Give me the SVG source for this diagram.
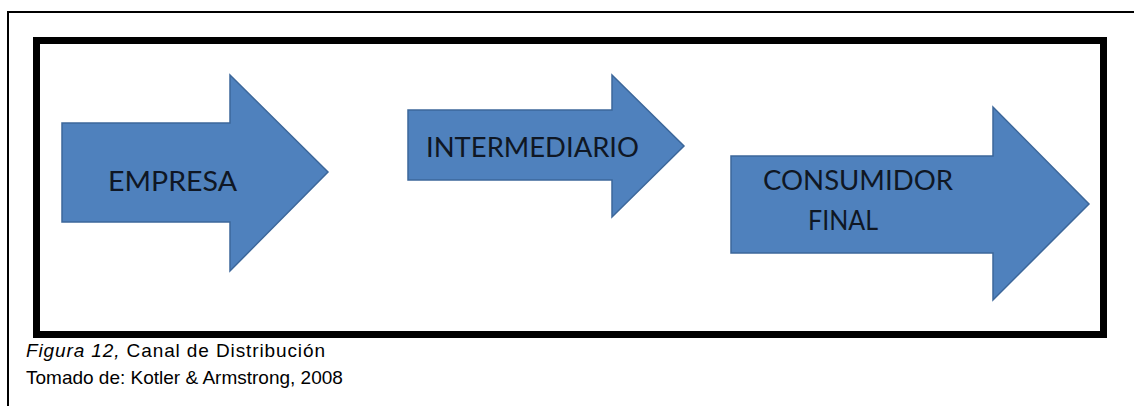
<svg xmlns="http://www.w3.org/2000/svg" width="1134" height="406" viewBox="0 0 1134 406">
  <defs>
    <style>
      .page { fill: none; stroke: #000; stroke-width: 2; }
      .frame { fill: none; stroke: #000; stroke-width: 7; }
      .arrow { fill: #4f81bd; stroke: #3c679a; stroke-width: 1.5; stroke-linejoin: miter; }
      .label { font-family: Lato, "Open Sans", "Liberation Sans", sans-serif; font-size: 26px; fill: #0f1724; }
      .caption { font-family: "Liberation Sans", Arial, sans-serif; font-size: 19px; fill: #000; }
    </style>
  </defs>

  <rect width="1134" height="406" fill="#fff"/>

  <!-- page border: top and left edges only -->
  <path class="page" d="M8,406 V12 H1134"/>

  <!-- heavy frame around the channel -->
  <rect class="frame" x="36.5" y="40.5" width="1067" height="294"/>

  <g id="empresa">
    <polygon class="arrow" points="62,123 230,123 230,75 328,172 230,271 230,222 62,222"/>
    <text class="label" x="108" y="191" textLength="129" lengthAdjust="spacingAndGlyphs">EMPRESA</text>
  </g>

  <g id="intermediario">
    <polygon class="arrow" points="408,110 612,110 612,75 684,146 612,217 612,180 408,180"/>
    <text class="label" x="426" y="157" textLength="213" lengthAdjust="spacingAndGlyphs">INTERMEDIARIO</text>
  </g>

  <g id="consumidor-final">
    <polygon class="arrow" points="731,156 993,156 993,107 1089,204 993,300 993,253 731,253"/>
    <text class="label" x="763" y="190" textLength="190" lengthAdjust="spacingAndGlyphs">CONSUMIDOR</text>
    <text class="label" x="808" y="230" textLength="70" lengthAdjust="spacingAndGlyphs">FINAL</text>
  </g>

  <g id="connectors"/>

  <g id="caption">
    <text class="caption" x="26" y="357" textLength="299" lengthAdjust="spacing"><tspan font-style="italic">Figura 12,</tspan> Canal de Distribución</text>
    <text class="caption" x="26" y="384">Tomado de: Kotler &amp; Armstrong, 2008</text>
  </g>
</svg>
